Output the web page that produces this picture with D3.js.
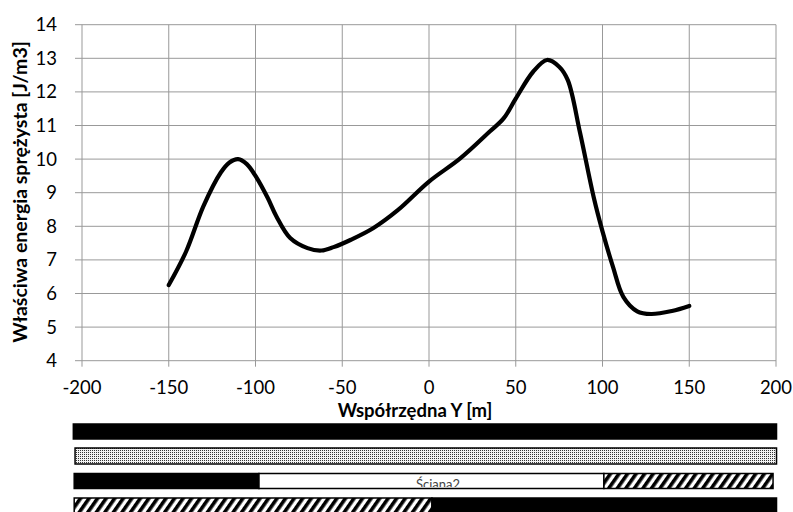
<!DOCTYPE html>
<html><head><meta charset="utf-8">
<script src="https://cdn.jsdelivr.net/npm/d3@7/dist/d3.min.js"></script>
<style>body{margin:0;background:#fff}svg{display:block}</style>
</head><body>
<svg id="c" width="793" height="512"></svg>
<script>
const xTicks = [-200,-150,-100,-50,0,50,100,150,200];
const yTicks = [4,5,6,7,8,9,10,11,12,13,14];
const posY = [-150,-140,-130,-120,-115,-110,-105,-100,-93,-88,-80,-70,-62,-55,-45,-32,-18,0,18,35,43,50,60,68,75,80,87,95,100,106,112,120,128,140,150];
const energy = [6.25,7.25,8.6,9.6,9.9,10.0,9.85,9.5,8.85,8.3,7.65,7.35,7.28,7.38,7.6,7.95,8.48,9.33,10.02,10.82,11.21,11.8,12.6,12.95,12.75,12.35,10.8,8.85,7.85,6.8,5.9,5.47,5.39,5.48,5.63];
const xTitle = "Współrzędna Y [m]";
const yTitle = "Właściwa energia sprężysta [J/m3]";
// strip segments below chart: [start, end, fill]
const strip1 = [[-205,200.3,"black"]];
const strip2 = [[-204,200.3,"dots"]];
const strip3 = [[-204.5,-98,"black"],[-98,100.8,"white"],[100.8,198.3,"hatch"]];
const strip4 = [[-204.5,1.7,"hatch"],[1.7,200.3,"black"]];
const stripLabel = "Ściana2";

const svg = d3.select("#c");
const x = d3.scaleLinear().domain([-200,200]).range([82,776]);
const y = d3.scaleLinear().domain([4,14]).range([360.7,24.7]);
const font = "Lato, 'Open Sans', sans-serif";

const defs = svg.append("defs");
const pd = defs.append("pattern").attr("id","dots").attr("patternUnits","userSpaceOnUse").attr("width",2).attr("height",2);
pd.append("rect").attr("width",2).attr("height",2).attr("fill","#f2f2f2");
pd.append("rect").attr("width",1).attr("height",1).attr("fill","#333");
const ph = defs.append("pattern").attr("id","hatch").attr("patternUnits","userSpaceOnUse").attr("width",7).attr("height",7).attr("patternTransform","rotate(35)");
ph.append("rect").attr("width",7).attr("height",7).attr("fill","#fff");
ph.append("rect").attr("width",3.6).attr("height",7).attr("fill","#000");

// grid
svg.append("g").selectAll("line").data(xTicks).join("line")
  .attr("x1",d=>x(d)).attr("x2",d=>x(d)).attr("y1",y(14)).attr("y2",y(4)+6)
  .attr("stroke","#999").attr("stroke-width",1);
svg.append("g").selectAll("line").data(yTicks).join("line")
  .attr("x1",x(-200)-7).attr("x2",x(200)).attr("y1",d=>y(d)).attr("y2",d=>y(d))
  .attr("stroke","#999").attr("stroke-width",1);

// tick labels
svg.append("g").selectAll("text").data(xTicks).join("text")
  .attr("x",d=>x(d)).attr("y",y(4)+33.5).attr("text-anchor","middle")
  .attr("font-family",font).attr("font-size",18.5).attr("fill","#000").text(d=>d);
svg.append("g").selectAll("text").data(yTicks).join("text")
  .attr("x",57).attr("y",d=>y(d)+6.5).attr("text-anchor","end")
  .attr("font-family",font).attr("font-size",18.5).attr("fill","#000").text(d=>d);

// titles
svg.append("text").attr("x",415).attr("y",416.5).attr("text-anchor","middle")
  .attr("font-family",font).attr("font-weight","bold").attr("font-size",18.5).attr("fill","#000").text(xTitle);
svg.append("text").attr("transform","translate(27,192) rotate(-90)").attr("text-anchor","middle")
  .attr("font-family",font).attr("font-weight","bold").attr("font-size",19.5).attr("fill","#000").text(yTitle);

// curve
const line = d3.line().x((d,i)=>x(posY[i])).y(d=>y(d)).curve(d3.curveCatmullRom.alpha(0.5));
svg.append("path").datum(energy).attr("d",line).attr("fill","none")
  .attr("stroke","#000").attr("stroke-width",4.2).attr("stroke-linecap","round").attr("stroke-linejoin","round");

// strips
function fillOf(f){return f==="dots"?"url(#dots)":f==="hatch"?"url(#hatch)":f;}
const strips = [[strip1,424,15],[strip2,448,16],[strip3,473.5,15],[strip4,498,16]];
strips.forEach(([segs,top,h],k)=>{
  const g = svg.append("g");
  g.selectAll("rect").data(segs).join("rect")
    .attr("x",d=>x(d[0])).attr("width",d=>x(d[1])-x(d[0]))
    .attr("y",top).attr("height",h)
    .attr("fill",d=>fillOf(d[2])).attr("stroke","#000").attr("stroke-width",1.5);
  if(k===2){
    const mid = segs[1];
    defs.append("clipPath").attr("id","clip3").append("rect")
      .attr("x",x(mid[0])).attr("width",x(mid[1])-x(mid[0])).attr("y",top).attr("height",h-1.5);
    g.append("text").attr("clip-path","url(#clip3)").attr("x",438).attr("y",top+15.5)
      .attr("text-anchor","middle").attr("font-family",font).attr("font-size",13).attr("fill","#444").text(stripLabel);
  }
});
</script>
</body></html>
